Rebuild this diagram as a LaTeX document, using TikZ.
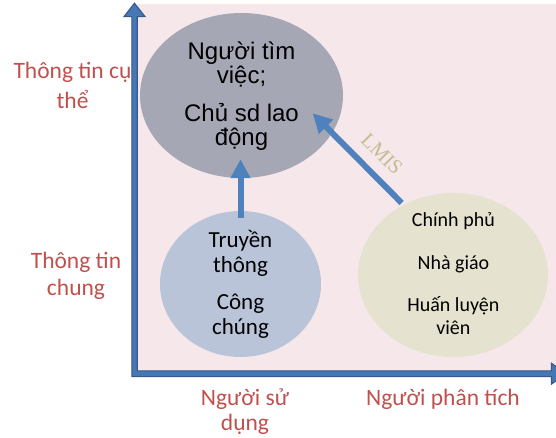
\documentclass[tikz,border=0pt]{standalone}
\usepackage{fontspec}
\setmainfont{Carlito}
\newfontfamily\arialf{Liberation Sans}
\newfontfamily\timesf{Liberation Serif}
\usetikzlibrary{arrows.meta,calc,shapes.geometric}
\definecolor{pinkbg}{HTML}{F6E8EA}
\definecolor{axisfill}{HTML}{4877B6}
\definecolor{axisline}{HTML}{35598A}
\definecolor{arrowblue}{HTML}{4F81BD}
\definecolor{greyell}{HTML}{A5A7B4}
\definecolor{blueell}{HTML}{B9C4D9}
\definecolor{beigeell}{HTML}{E5E2CF}
\definecolor{redtxt}{HTML}{C0504D}
\definecolor{tantxt}{HTML}{C4BC94}
\begin{document}
\begin{tikzpicture}[x=1pt,y=-1pt,
  ell/.style={ellipse, inner sep=0pt, draw=none},
  lbl/.style={align=center, anchor=base, inner sep=0pt},
  redlbl/.style={lbl, text=redtxt},
  flow/.style={line width=6pt, draw=arrowblue, -{Triangle[width=19pt,length=19pt]}}]
\useasboundingbox (0,0) rectangle (556,438);
\clip (0,0) rectangle (556,438);
% background
\fill[pinkbg] (137.2,4) rectangle (556,370.9);
% axes
\filldraw[fill=axisfill, draw=axisline, line width=1.1pt, line join=miter]
  (131.8,376.6) -- (131.8,16.6) -- (124,16.6) -- (134.5,3.3) -- (145,16.6)
  -- (137.2,16.6) -- (137.2,370.9) -- (551.5,370.9) -- (551.5,363.3)
  -- (566,373.7) -- (551.5,384.1) -- (551.5,376.6) -- cycle;
% ellipses
\node[ell, fill=greyell, minimum width=203pt, minimum height=165pt] (grey) at (241.5,95.5) {};
\node[ell, fill=blueell, minimum width=161pt, minimum height=146pt] (blue) at (240.5,284) {};
\node[ell, fill=beigeell, minimum width=190pt, minimum height=164pt] (beige) at (453,275) {};
% texts in ellipses (anchor base = baseline of last line)
\node[lbl, font=\arialf\fontsize{24}{24.5}\selectfont] (greytxt) at (241.5,146)
  {Người tìm\\việc;\\[13pt]Chủ sd lao\\động};
\node[lbl, font=\fontsize{23}{25}\selectfont] (bluetxt) at (240.5,334)
  {Truyền\\thông\\[12pt]Công\\chúng};
\node[lbl, font=\fontsize{20}{22.5}\selectfont] (beigetxt) at (453.4,334)
  {Chính phủ\\[20pt]Nhà giáo\\[20pt]Huấn luyện\\viên};
% axis labels
\node[redlbl, font=\fontsize{23.5}{30}\selectfont] (spec) at (72.5,109) {Thông tin cụ\\thể};
\node[redlbl, font=\fontsize{23.5}{27}\selectfont] (gen) at (76,295) {Thông tin\\chung};
\node[redlbl, font=\fontsize{23.5}{25}\selectfont] (user) at (245,430) {Người sử\\dụng};
\node[redlbl, font=\fontsize{23.5}{25}\selectfont] (anal) at (443,405) {Người phân tích};
% arrows
\draw[flow] ($(blue.north)+(0,7)$) -- ($(blue.north |- grey.south)+(0,-19)$);
\draw[flow] ($(beige.center)+(-51.3,-72)$) -- ($(grey.center)+(71.2,17.8)$);
\node[text=tantxt, font=\timesf\fontsize{20.5}{20.5}\selectfont, rotate=-45, inner sep=0pt] (lmis) at (382,154) {LMIS};
\end{tikzpicture}
\end{document}
